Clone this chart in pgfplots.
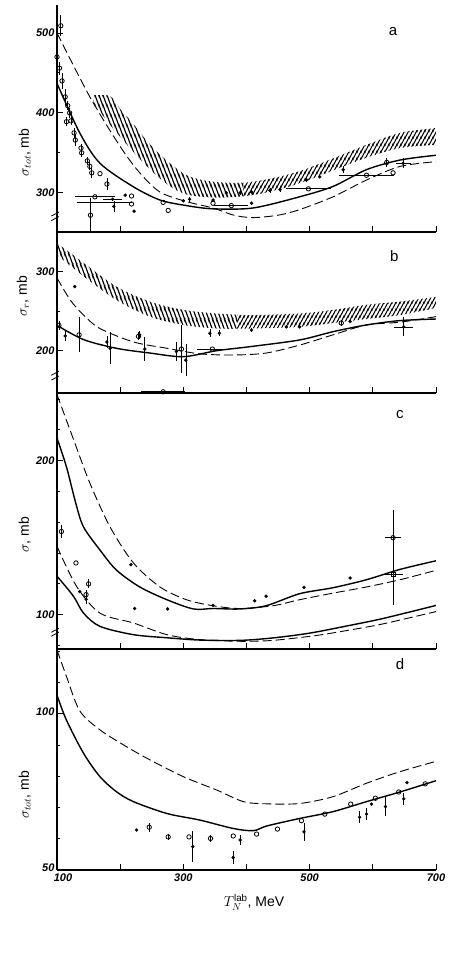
\documentclass[border=0pt]{standalone}
\usepackage{fontspec}
\setmainfont{Liberation Sans}
\usepackage{pgfplots}
\pgfplotsset{compat=1.18}
\usepgfplotslibrary{fillbetween}
\usetikzlibrary{patterns}
\pgfdeclarepatternformonly{hatchR}{\pgfqpoint{0pt}{0pt}}{\pgfqpoint{4.16pt}{7.2pt}}{\pgfqpoint{4.16pt}{7.2pt}}{%
  \pgfsetlinewidth{1.2pt}%
  \pgfpathmoveto{\pgfqpoint{-4.16pt}{-7.2pt}}\pgfpathlineto{\pgfqpoint{8.32pt}{14.4pt}}%
  \pgfpathmoveto{\pgfqpoint{0pt}{-7.2pt}}\pgfpathlineto{\pgfqpoint{8.32pt}{7.2pt}}%
  \pgfpathmoveto{\pgfqpoint{-4.16pt}{0pt}}\pgfpathlineto{\pgfqpoint{4.16pt}{14.4pt}}%
  \pgfusepath{stroke}}
\pgfdeclarepatternformonly{hatchL}{\pgfqpoint{0pt}{0pt}}{\pgfqpoint{3.8pt}{10.45pt}}{\pgfqpoint{3.8pt}{10.45pt}}{%
  \pgfsetlinewidth{1.2pt}%
  \pgfpathmoveto{\pgfqpoint{7.6pt}{-10.45pt}}\pgfpathlineto{\pgfqpoint{-3.8pt}{20.9pt}}%
  \pgfpathmoveto{\pgfqpoint{3.8pt}{-10.45pt}}\pgfpathlineto{\pgfqpoint{-3.8pt}{10.45pt}}%
  \pgfpathmoveto{\pgfqpoint{7.6pt}{0pt}}\pgfpathlineto{\pgfqpoint{0pt}{20.9pt}}%
  \pgfusepath{stroke}}
\begin{document}
\begin{tikzpicture}
\pgfplotsset{
  panel/.style={scale only axis, width=379pt, anchor=south west,
    xmin=100, xmax=700, axis x line*=bottom, axis y line*=left,
    axis line style={-, line width=1.2pt},
    tick align=inside, xtick={100,200,...,700}, xticklabels={},
    major tick length=6pt, minor tick length=3pt,
    every tick/.style={black, line width=0.9pt},
    /pgf/number format/assume math mode=true,
    tick label style={font=\fontsize{11}{12}\selectfont\itshape\bfseries},
    yticklabel style={xshift=1pt},
    clip mode=individual},
  sol/.style={black, line width=1.4pt, smooth},
  das/.style={black, line width=0.9pt, smooth, dash pattern=on 9pt off 4pt},
  opn/.style={only marks, mark=o, mark size=2.2pt, mark options={line width=0.8pt, fill=white, solid}},
  ful/.style={only marks, mark=*, mark size=1.5pt, mark options={solid}},
  ebar/.style={error bars/.cd, x dir=both, x explicit, y dir=both, y explicit,
    error mark=none, error bar style={line width=0.7pt, black}},
}
% ---------------- panel a ----------------
\begin{axis}[panel, at={(57pt,725pt)}, height=227pt, ymin=251, ymax=535,
  ytick={300,400,500}, minor ytick={250,350,450}]
\addplot[name path=topA, draw=none, smooth] coordinates {(158,422)(184,421)(200,405)(220,387)(240,367)(263,348)(285,333)(305,322)(330,316)(360,313)(400,313)(440,318)(484,327)(537,343)(590,360)(643,375)(700,381)};
\addplot[name path=botA, draw=none, smooth] coordinates {(158,412)(184,385)(200,370)(220,352)(240,335)(263,318)(285,305)(305,298)(330,295)(360,294)(400,296)(440,302)(484,312)(537,328)(590,344)(643,356)(700,360)};
\addplot[draw=none, pattern=hatchL] fill between[of=topA and botA, soft clip={domain=150:395}];
\addplot[draw=none, pattern=hatchR] fill between[of=topA and botA, soft clip={domain=395:700}];
\addplot[sol] coordinates {(100,437)(136,375)(168,337)(220,308)(263,291)(305,284)(347,280)(410,281)(484,295)(537,308)(590,329)(643,341)(700,347)};
\addplot[das] coordinates {(100,500)(152,420)(200,358)(231,325)(263,301)(305,289)(347,281)(380,272)(410,269)(450,272)(484,279)(537,295)(590,316)(643,333)(700,339)};
\addplot[black, line width=0.8pt] coordinates {(131,288)(218,288)};
\addplot[opn, ebar] table[x=x, y=y, x error=ex, y error=ey] {
x y ex ey
106 509 0 13
100 470 0 10
104 456 0 8
108 440 0 10
113 420 0 10
117 409 0 6
120 400 0 6
115 389 0 6
122 390 0 5
127 375 0 6
129 366 0 8
138 356 0 5
139 350 0 5
148 340 0 5
152 333 0 5
155 325 0 6
168 324 0 0
179 311 0 8
160 295 32 0
153 272 0 21
218 296 0 0
218 286 0 0
268 288 0 0
276 278 0 0
347 287 0 0
376 284 27 0
498 305 35 0
590 322 43 0
632 325 0 0
622 338 0 6
};
\addplot[ful, ebar] table[x=x, y=y, x error=ex, y error=ey] {
x y ex ey
188 292 15 0
190 283 0 7
208 297 0 0
222 277 0 0
300 290 0 0
310 292 0 3
347 291 0 0
368 300 0 0
390 300 0 3
408 301 0 0
437 303 0 3
453 304 0 3
495 316 0 3
516 320 0 0
553 329 0 4
648 337 12 6
408 287 0 0
};
\node[font=\fontsize{15}{16}\selectfont] at (axis description cs:0.887,0.885) {a};
\node[font=\fontsize{14}{16}\selectfont, rotate=90] at (axis description cs:-0.085,0.35) {$\sigma_{tot}$, mb};
\draw[line width=0.8pt] (axis description cs:-0.015,0.05) -- (axis description cs:0.005,0.068);
\draw[line width=0.8pt] (axis description cs:-0.015,0.07) -- (axis description cs:0.005,0.088);
\end{axis}
% ---------------- panel b ----------------
\begin{axis}[panel, at={(57pt,564pt)}, height=161pt, ymin=146.5, ymax=350,
  ytick={200,300}, minor ytick={250}]
\addplot[name path=topB, draw=none, smooth] coordinates {(100,336)(142,311)(194,281)(247,262)(300,251.5)(353,247)(405,245)(484,247)(537,251.5)(590,258)(643,262)(700,268)};
\addplot[name path=botB, draw=none, smooth] coordinates {(100,321)(142,294)(194,264)(247,243)(300,232.5)(353,228)(405,228)(484,230)(537,235)(590,240)(643,245)(700,254)};
\addplot[draw=none, pattern=hatchL] fill between[of=topB and botB, soft clip={domain=100:385}];
\addplot[draw=none, pattern=hatchR] fill between[of=topB and botB, soft clip={domain=385:700}];
\addplot[sol] coordinates {(100,232)(142,214)(194,203)(247,197)(300,192.4)(353,200)(405,205)(484,213.5)(537,224)(590,232.5)(643,238)(700,240)};
\addplot[das] coordinates {(100,292)(121,264)(142,245)(168,228)(221,211)(274,203)(326,196)(379,194.5)(431,197)(484,207)(537,220)(590,232.5)(643,236)(700,243)};
\addplot[opn, ebar] table[x=x, y=y, x error=ex, y error=ey] {
x y ex ey
103 232 0 6
135 220 0 22
229 218 0 5
297 202 0 30
346 202 25 0
550 235 0 4
268 148 35 0
};
\addplot[ful, ebar] table[x=x, y=y, x error=ex, y error=ey] {
x y ex ey
113 218.6 0 6
128 281 0 0
179 211 0 8
184 203 0 20
231 220 0 5
239 202 0 15
289 199 0 12
304 188 0 20
342 222 0 5
357 222 0 4
408 226 0 3
463 230 0 0
484 230 0 0
564 237 0 0
649 230 15 12
};
\node[font=\fontsize{15}{16}\selectfont] at (axis description cs:0.89,0.85) {b};
\node[font=\fontsize{14}{16}\selectfont, rotate=90] at (axis description cs:-0.09,0.60) {$\sigma_{r}$, mb};
\draw[line width=0.8pt] (axis description cs:-0.015,0.08) -- (axis description cs:0.005,0.105);
\draw[line width=0.8pt] (axis description cs:-0.015,0.11) -- (axis description cs:0.005,0.135);
\end{axis}
% ---------------- panel c ----------------
\begin{axis}[panel, at={(57pt,308pt)}, height=256pt, ymin=77.7, ymax=244,
  ytick={100,200}, minor ytick={80,120,140,160,180,220,240}]
\addplot[sol] coordinates {(100,214.7)(115,196)(130,172)(142,157)(168,142)(194,129)(231,118)(274,109.7)(316,103.7)(347,104)(389,103.7)(431,105.8)(484,113.6)(537,117.5)(590,122.7)(643,129.4)(700,135)};
\addplot[das] coordinates {(100,243)(126,214)(152,185.5)(184,157)(221,133.6)(263,118)(305,109.7)(347,105.8)(389,104)(442,105.8)(484,109.7)(537,114)(590,118)(643,122.7)(700,128.8)};
\addplot[sol] coordinates {(100,125)(126,112)(142,101)(168,92.4)(221,87)(274,85)(326,83.5)(390,83.3)(442,84.9)(500,88)(563,93)(616,97.5)(700,106)};
\addplot[das] coordinates {(100,144.4)(131,118.4)(168,101)(221,94.6)(274,87)(326,83.8)(390,82.7)(442,83.3)(511,86.5)(563,90)(616,94)(700,102)};
\addplot[opn, ebar] table[x=x, y=y, x error=ex, y error=ey] {
x y ex ey
107 154 0 4
130 133.6 0 0
150 120 0 3
146 113 0 3
632 150 13 18
};
\addplot[only marks, mark=square, mark size=2pt, mark options={line width=0.8pt, fill=white, solid}, ebar] table[x=x, y=y, x error=ex, y error=ey] {
x y ex ey
632 126 15 20
};
\addplot[ful, ebar] table[x=x, y=y, x error=ex, y error=ey] {
x y ex ey
136 115 0 0
146 110 0 3
217 132.5 0 0
223 104 0 0
275 103.7 0 0
347 106 0 0
413 109 0 0
431 112 0 0
491 117.7 0 0
564 123.8 0 0
};
\node[font=\fontsize{15}{16}\selectfont] at (axis description cs:0.905,0.914) {c};
\node[font=\fontsize{14}{16}\selectfont, rotate=90] at (axis description cs:-0.085,0.445) {$\sigma$, mb};
\draw[line width=0.8pt] (axis description cs:-0.015,0.05) -- (axis description cs:0.005,0.066);
\draw[line width=0.8pt] (axis description cs:-0.015,0.065) -- (axis description cs:0.005,0.081);
\end{axis}
% ---------------- panel d ----------------
\begin{axis}[panel, at={(57pt,87pt)}, height=221pt, ymin=50, ymax=120.8,
  ytick={50,100}, minor ytick={60,70,80,90,110,120},
  xticklabels={\hspace*{12pt}100,,300,,500,,700},
  yticklabel style={xshift=0pt, yshift=2pt},
  xlabel={$T_N^{\mathrm{lab}}$, MeV},
  xlabel style={font=\fontsize{14}{16}\selectfont, at={(axis description cs:0.52,-0.095)}, anchor=north}]
\addplot[das] coordinates {(100,120.5)(115,112)(136,101)(168,94.9)(210,89.5)(247,85.3)(300,79.9)(353,75.6)(395,71.9)(432,71.2)(484,71.3)(537,73.5)(590,77.8)(643,81.5)(700,84.8)};
\addplot[sol] coordinates {(100,106)(115,98)(142,87.4)(168,79.9)(194,75.1)(221,71.9)(274,68.1)(326,66)(379,63.3)(411,62.6)(432,64.1)(484,66.5)(537,68.7)(590,71.9)(643,75)(700,78.6)};
\addplot[opn, ebar] table[x=x, y=y, x error=ex, y error=ey] {
x y ex ey
246 63.7 0 1.5
276 60.6 0 1
309 60.6 0 0
343 60.1 0 1
379 60.9 0 0
416 61.5 0 0
449 63.1 0 0
487 65.8 0 0
524 67.9 0 0
565 71.1 0 0
604 73 0 0
641 75 0 0
683 77.6 0 0
};
\addplot[ful, ebar] table[x=x, y=y, x error=ex, y error=ey] {
x y ex ey
226 62.8 0 0
315 57.5 0 5
379 54 0 2
390 59.6 0 1.5
491 62.2 0 3
579 66.9 0 2
590 67.9 0 2
598 71.1 0 0
620 70.3 0 3
649 72.8 0 2
654 78 0 0
};
\node[font=\fontsize{15}{16}\selectfont] at (axis description cs:0.905,0.93) {d};
\node[font=\fontsize{14}{16}\selectfont, rotate=90] at (axis description cs:-0.085,0.34) {$\sigma_{tot}$, mb};
\end{axis}
\path (0pt,0pt) rectangle (443pt,957pt);
\end{tikzpicture}
\end{document}
